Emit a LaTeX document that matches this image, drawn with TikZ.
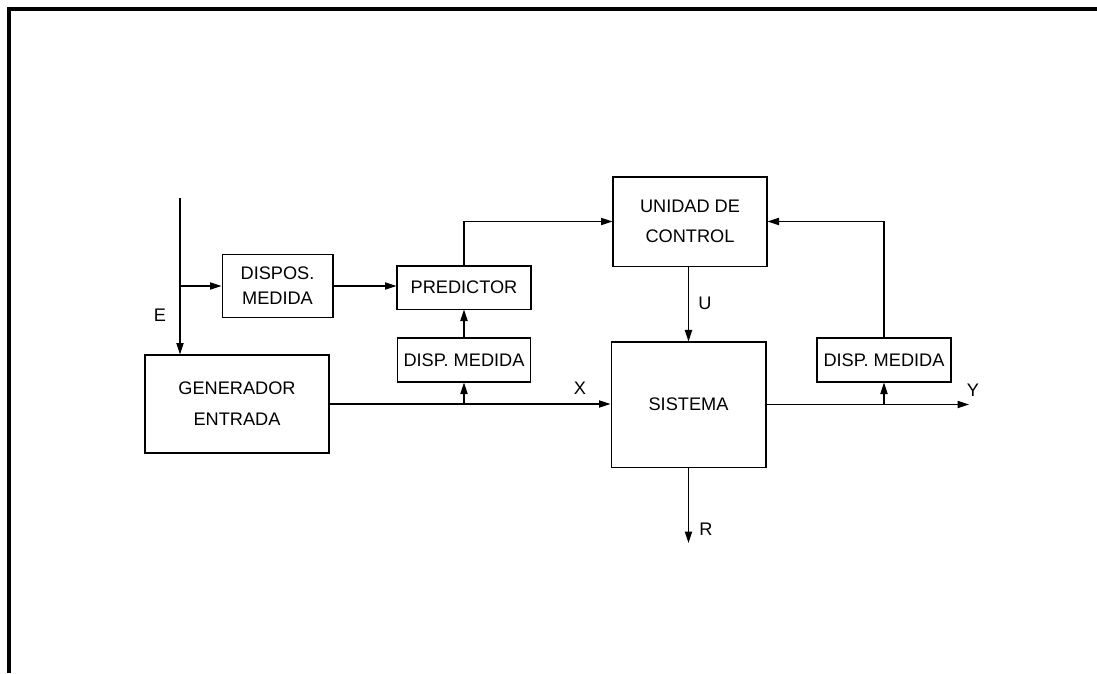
\documentclass[tikz,border=0pt]{standalone}
\usepackage{fontspec}
\setmainfont{Liberation Sans}
\usetikzlibrary{arrows.meta}

\tikzset{
  bloque/.style={draw, line width=0.6pt, inner sep=0pt, align=center},
  flecha/.style={-{Triangle[length=6.3pt,width=4pt]}, line width=0.6pt},
  etiqueta/.style={inner sep=0pt}
}

\begin{document}
\begin{tikzpicture}[x=0.55pt, y=-0.55pt, font=\fontsize{10}{12}\selectfont]
    \useasboundingbox (0,0) rectangle (1097,673);

    % marco
    \draw[line width=2.2pt] (9,673) -- (9,9) -- (1097,9);

    % bloques
    \node[bloque, minimum width=61pt, minimum height=34.6pt] (dispos) at (277.5,286) {DISPOS.\\[1.7pt]MEDIDA};
    \node[bloque, minimum width=101.2pt, minimum height=53.9pt] (gen) at (237,404) {GENERADOR\\[5pt]ENTRADA};
    \node[bloque, minimum width=73.7pt, minimum height=23.7pt] (pred) at (464,287.5) {PREDICTOR};
    \node[bloque, minimum width=73.2pt, minimum height=24.2pt] (dispx) at (464,360) {DISP. MEDIDA};
    \node[bloque, minimum width=84.7pt, minimum height=49pt] (unidad) at (690,221.5) {UNIDAD DE\\[4.5pt]CONTROL};
    \node[bloque, minimum width=85.2pt, minimum height=68.8pt] (sistema) at (688.5,404.5) {SISTEMA};
    \node[bloque, minimum width=73.7pt, minimum height=24.2pt] (dispy) at (884,360) {DISP. MEDIDA};

    % puntos libres
    \coordinate (eIn) at (180,198);
    \coordinate (rOut) at (688.5,543);
    \coordinate (yOut) at (969,404.5);

    % conexiones
    \draw[flecha] (eIn) -- (eIn |- gen.north);
    \draw[flecha] (eIn |- dispos.west) -- (dispos.west);
    \draw[flecha] (dispos.east) -- (dispos.east -| pred.west);
    \draw[flecha] (gen.east) -- (gen.east -| sistema.west);
    \draw[flecha] (dispx.south |- gen.east) -- (dispx.south);
    \draw[flecha] (dispx.north) -- (pred.south);
    \draw[flecha] (pred.north) |- (unidad.west);
    \draw[flecha] (unidad.south -| sistema.north) -- (sistema.north);
    \draw[flecha] (sistema.south) -- (rOut);
    \draw[flecha] (sistema.east) -- (yOut);
    \draw[flecha] (dispy.south |- sistema.east) -- (dispy.south);
    \draw[flecha] (dispy.north) |- (unidad.east);

    % etiquetas
    \node[etiqueta] (lblE) at (160,315) {E};
    \node[etiqueta] (lblX) at (580,388) {X};
    \node[etiqueta] (lblU) at (705,303) {U};
    \node[etiqueta] (lblR) at (706,529) {R};
    \node[etiqueta] (lblY) at (973,390) {Y};
\end{tikzpicture}
\end{document}
